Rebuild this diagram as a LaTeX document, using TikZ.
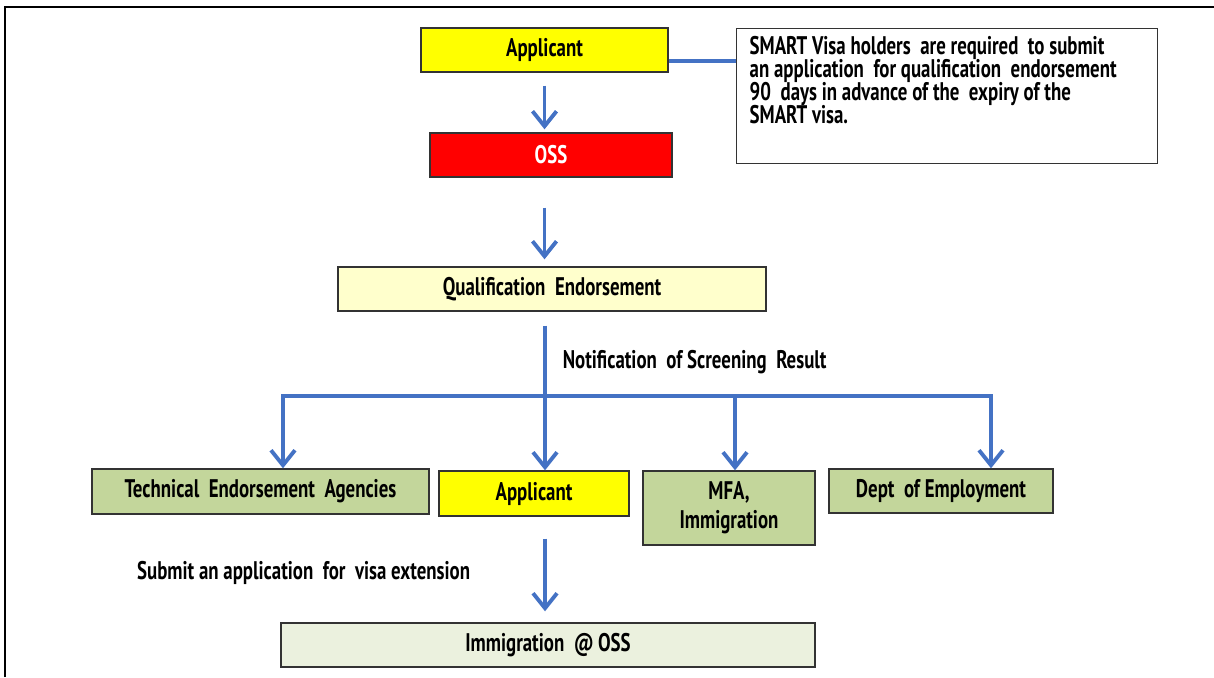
\documentclass[tikz,border=0pt]{standalone}
\usepackage{fontspec}
\setmainfont{PT Sans}[FakeStretch=0.74]
\usetikzlibrary{arrows.meta}
\definecolor{myBlue}{RGB}{68,114,196}
\definecolor{myYellow}{RGB}{255,255,0}
\definecolor{myRed}{RGB}{255,0,0}
\definecolor{myCream}{RGB}{255,255,204}
\definecolor{myGreen}{RGB}{195,214,155}
\definecolor{myPale}{RGB}{235,241,222}

\begin{document}
\begin{tikzpicture}[x=0.02cm,y=-0.02cm,
  box/.style={draw=black!80, line width=0.8pt, inner sep=0pt, minimum height=0.88cm,
    font=\bfseries\fontsize{14.5}{15}\selectfont, align=center},
  link/.style={draw=myBlue, line width=2.2pt},
  arr/.style={link, -{Straight Barb[length=0.3cm,width=0.48cm]}},
  txt/.style={font=\bfseries\fontsize{14.5}{15}\selectfont}]
  \useasboundingbox (0,0) rectangle (1214,677);
  \draw[thick] (5,677) -- (5,7) -- (1214,7);

  % top part
  \node[box, fill=myYellow, minimum width=4.94cm] (app) at (544.5,50) {Applicant};
  \node[box, fill=myRed, text=white, minimum width=4.84cm] (oss) at (551,155) {OSS};
  \node[box, fill=white, anchor=north west, minimum width=8.42cm, minimum height=2.7cm,
    inner xsep=0.26cm, inner ysep=0.16cm, align=left] (note) at (736,28)
    {\parbox[c][2.38cm][t]{7.9cm}{\fontsize{14.5}{13.1}\selectfont\lineskiplimit=-20pt\raggedright
      SMART Visa holders \ are required \ to submit\\
      an application \ for qualification \ endorsement\\
      90 \ days in advance of the \ expiry of the\\
      SMART visa.}};
  \node[box, fill=myCream, minimum width=8.56cm] (qual) at (552,289) {Qualification \ Endorsement};

  \draw[link] ([yshift=-0.22cm]app.east) -- ([yshift=-0.22cm]app.east -| note.west);
  \draw[arr, shorten <=0.26cm, shorten >=0.06cm] (app.south) -- (app.south |- oss.north);
  \draw[arr, shorten <=0.6cm, shorten >=0.14cm] (oss.south -| app.south) -- (app.south |- qual.north);

  % screening result
  \node[box, fill=myGreen, minimum width=6.74cm, minimum height=0.9cm] (tea) at (260.5,491.5)
    {Technical \ Endorsement \ Agencies};
  \node[box, fill=myYellow, minimum width=3.8cm, minimum height=0.9cm] (appb) at (534,493.5) {Applicant};
  \node[box, fill=myGreen, minimum width=3.44cm, minimum height=1.48cm,
    font=\bfseries\fontsize{14.5}{16.5}\selectfont] (mfa) at (729,508) {MFA,\\Immigration};
  \node[box, fill=myGreen, minimum width=4.48cm] (doe) at (941,491) {Dept \ of Employment};

  \coordinate (bar) at (545,396);
  \draw[link, shorten <=0.28cm] (qual.south -| bar) -- node[pos=0.6, right, txt, xshift=0.2cm]
    {Notification \ of Screening \ Result} (bar);
  \draw[arr] (bar) -| ([xshift=0.45cm]tea.north);
  \draw[arr] (bar) -| ([xshift=1cm]doe.north);
  \draw[arr] (bar) -- (bar |- appb.north);
  \draw[arr] ([xshift=0.12cm]bar -| mfa.north) -- ([xshift=0.12cm]mfa.north);

  % extension
  \node[box, fill=myPale, minimum width=10.68cm] (imm) at (548,645) {Immigration \ @\,OSS};
  \node[txt, anchor=west] (sub) at (131,573) {Submit an application \ for \ visa extension};
  \draw[arr, shorten <=0.44cm, shorten >=0.22cm] (appb.south -| bar) -- (bar |- imm.north);
\end{tikzpicture}
\end{document}
